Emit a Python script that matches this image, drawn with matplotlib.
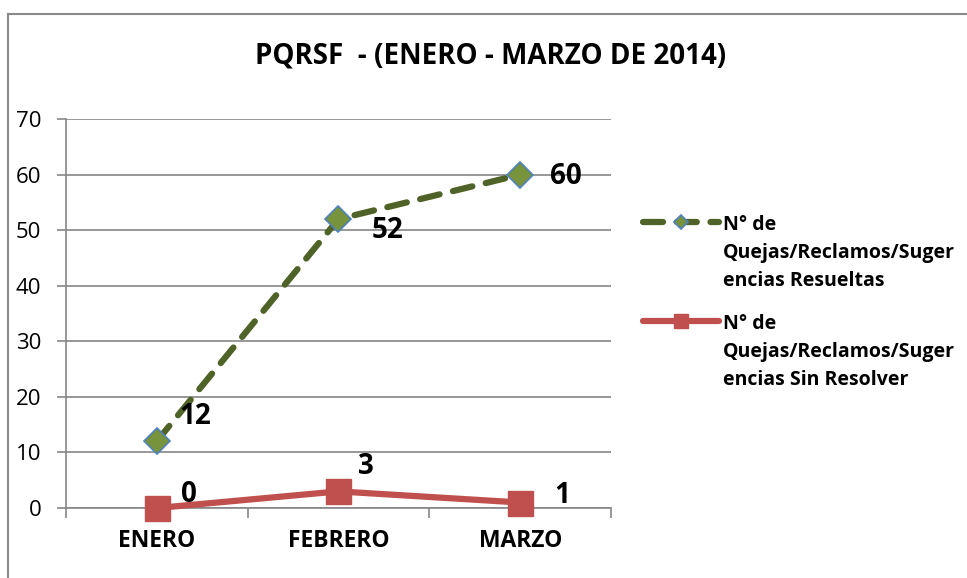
import matplotlib
matplotlib.use('Agg')
import matplotlib.pyplot as plt
from matplotlib.lines import Line2D

plt.rcParams['font.family'] = ['Open Sans', 'DejaVu Sans']

months = ['ENERO', 'FEBRERO', 'MARZO']
resueltas = [12, 52, 60]
sin_resolver = [0, 3, 1]
label_resueltas = 'N° de\nQuejas/Reclamos/Suger\nencias Resueltas'
label_sin_resolver = 'N° de\nQuejas/Reclamos/Suger\nencias Sin Resolver'
title = 'PQRSF  - (ENERO - MARZO DE 2014)'

# label offsets in points (dx, dy) relative to each point
off_resueltas = [(28, 18), (35, -8), (33, -1)]
off_sin_resolver = [(23, 10), (20, 18), (30, 5)]

fig = plt.figure(figsize=(9.67, 5.78), dpi=100)
ax = fig.add_axes([0.068, 0.121, 0.564, 0.673])

x = list(range(len(months)))

ax.plot(x, resueltas, color='#4F6228', lw=4.5, linestyle=(0, (3.2, 2.2)),
        dash_capstyle='round', marker='D', markersize=13,
        markerfacecolor='#77933C', markeredgecolor='#4F81BD', markeredgewidth=1.2,
        label=label_resueltas, zorder=3, clip_on=False)
ax.plot(x, sin_resolver, color='#C0504D', lw=4.5, solid_capstyle='round',
        marker='s', markersize=18, markerfacecolor='#C0504D', markeredgecolor='#C0504D',
        label=label_sin_resolver, zorder=3, clip_on=False)

for xi, v, (dx, dy) in zip(x, resueltas, off_resueltas):
    ax.annotate(str(v), (xi, v), xytext=(dx, dy), textcoords='offset points',
                ha='center', va='center', fontsize=20, fontweight='bold')
for xi, v, (dx, dy) in zip(x, sin_resolver, off_sin_resolver):
    ax.annotate(str(v), (xi, v), xytext=(dx, dy), textcoords='offset points',
                ha='center', va='center', fontsize=20, fontweight='bold')

ax.set_xlim(-0.5, 2.5)
ax.set_ylim(0, 70)
ax.set_yticks(range(0, 71, 10))
ax.set_xticks(x)
ax.set_xticklabels(months, fontsize=16.5, fontweight='bold')
ax.set_xticks([-0.5, 0.5, 1.5, 2.5], minor=True)
ax.tick_params(axis='x', which='major', length=0, pad=15)
ax.tick_params(axis='x', which='minor', length=7, color='#868686', width=1.2)
ax.tick_params(axis='y', length=6.5, color='#868686', width=1.2, labelsize=16, pad=11)

ax.grid(axis='y', color='#868686', lw=1.2)
ax.set_axisbelow(True)
for s in ['top', 'right']:
    ax.spines[s].set_visible(False)
for s in ['left', 'bottom']:
    ax.spines[s].set_color('#868686')
    ax.spines[s].set_linewidth(1.2)

fig.text(0.507, 0.903, title, ha='center', va='center', fontsize=20, fontweight='bold')

leg = fig.legend(loc='upper left', bbox_to_anchor=(0.647, 0.658), frameon=False,
                 prop={'weight': 'bold', 'size': 14}, markerscale=0.55,
                 handlelength=3.9, handletextpad=0.2, labelspacing=1.2)
for t in leg.get_texts():
    t.set_linespacing(1.52)
# align each handle with the first line of its label
for col in leg._legend_handle_box.get_children():
    for item in col.get_children():
        item.align = 'top'

# chart border (only left and top visible in the crop)
fig.add_artist(Line2D([0.0083, 0.0083], [0, 0.976], transform=fig.transFigure,
                      color='#8a8a8a', lw=1.5))
fig.add_artist(Line2D([0.0083, 1], [0.976, 0.976], transform=fig.transFigure,
                      color='#8a8a8a', lw=1.5))

fig.savefig('out.png', dpi=100)
